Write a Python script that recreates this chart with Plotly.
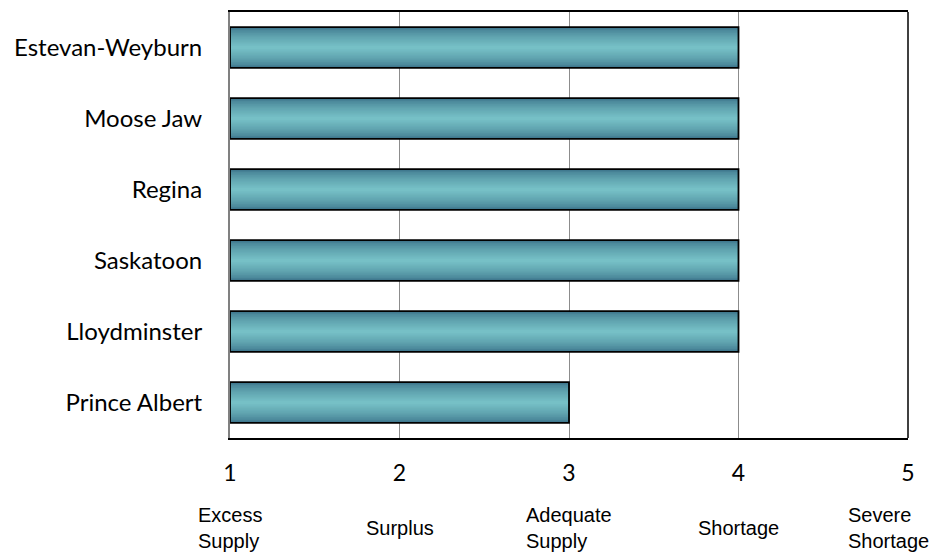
import plotly.graph_objects as go

regions = ["Estevan-Weyburn", "Moose Jaw", "Regina", "Saskatoon", "Lloydminster", "Prince Albert"]
ratings = [4, 4, 4, 4, 4, 3]
tick_vals = [1, 2, 3, 4, 5]
tick_text = ["1", "2", "3", "4", "5"]
scale_labels = ["Excess<br>Supply", "Surplus", "Adequate<br>Supply", "Shortage", "Severe<br>Shortage"]

# reverse so first region is at top
ys = regions[::-1]
xs = ratings[::-1]
base = [1] * len(xs)
lengths = [v - 1 for v in xs]

fig = go.Figure()

# simulate vertical gradient with overlaid bars of decreasing thickness
dark = (58, 112, 136)
light = (118, 192, 198)
n = 14
full_w = 0.575
for i in range(n):
    t = i / (n - 1)
    t2 = t ** 0.6
    c = tuple(int(dark[k] + (light[k] - dark[k]) * t2) for k in range(3))
    w = full_w * (1 - i / n)
    fig.add_trace(go.Bar(
        y=ys, x=lengths, base=base, orientation="h",
        width=w,
        marker=dict(color="rgb(%d,%d,%d)" % c, line=dict(width=0)),
        showlegend=False, hoverinfo="skip",
    ))
# border on top
fig.add_trace(go.Bar(
    y=ys, x=lengths, base=base, orientation="h", width=full_w,
    marker=dict(color="rgba(0,0,0,0)", line=dict(color="black", width=1.8)),
    showlegend=False, hoverinfo="skip",
))

n_labels = len(scale_labels)
for idx, (xv, lab) in enumerate(zip(tick_vals, scale_labels)):
    # last label is nudged left so it stays inside the page, as in the original
    shift = -20 if idx == n_labels - 1 else 0
    fig.add_annotation(x=xv, xref="x", y=-0.212, yref="paper", text=lab,
                       showarrow=False, align="left", xanchor="center", yanchor="middle",
                       xshift=shift,
                       font=dict(family="Liberation Sans, Arial", size=20, color="black"))

# right border of the plot frame
fig.add_shape(type="line", xref="paper", yref="paper", x0=1, x1=1, y0=0, y1=1,
              line=dict(color="black", width=1.5))

# page body has an 8px margin; size and margins are compensated accordingly
fig.update_layout(
    barmode="overlay",
    width=930, height=545,
    margin=dict(l=222, r=30, t=2, b=115),
    plot_bgcolor="white", paper_bgcolor="white",
    font=dict(family="Lato, Carlito, Calibri", size=24, color="black"),
)
fig.update_xaxes(range=[1, 5], tickvals=tick_vals, ticktext=tick_text,
                 showgrid=True, gridcolor="#8c8c8c", gridwidth=1,
                 showline=True, linecolor="black", linewidth=1.5, mirror=True,
                 ticks="outside", ticklen=0, ticklabelstandoff=14,
                 zeroline=False, tickfont=dict(size=23))
fig.update_yaxes(showline=True, linecolor="#808080", linewidth=2, mirror=False,
                 ticks="outside", ticklen=0, ticklabelstandoff=21,
                 showgrid=False, tickfont=dict(size=24))

fig.write_html("out.html")
